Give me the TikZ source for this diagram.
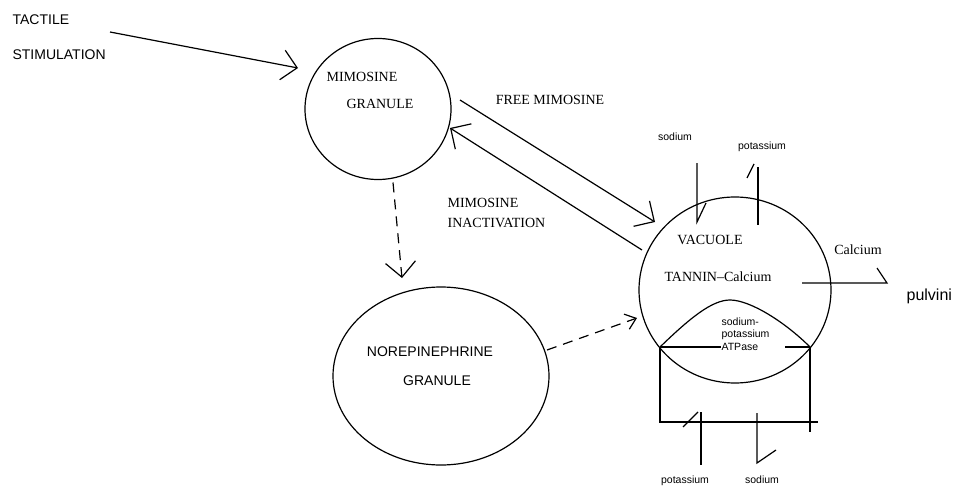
\documentclass[tikz,border=0pt]{standalone}
\usepackage{fontspec}
\setmainfont{Liberation Serif}
\setsansfont{Liberation Sans}
\usetikzlibrary{arrows.meta,shapes.geometric}

\begin{document}
\begin{tikzpicture}[x=1pt,y=-1pt,line width=1.2pt,
    >={Straight Barb[length=15pt,width=30pt]},
    serif/.style={font=\fontsize{14}{16}\selectfont,inner sep=0pt},
    sans/.style={font=\sffamily\fontsize{14}{16}\selectfont,inner sep=0pt},
    ion/.style={font=\sffamily\fontsize{10.5}{12.5}\selectfont,inner sep=0pt},
    blob/.style={draw,ellipse,inner sep=0pt,outer sep=0pt},
    dashy/.style={dash pattern=on 10pt off 7pt}]
    \useasboundingbox (0,0) rectangle (956,487);

    % Draw stimulus
    \node[sans,anchor=west] (tactile) at (12,20) {TACTILE};
    \node[sans,anchor=west] (stim) at (12,55) {STIMULATION};

    % Draw mimosine granule
    \node[blob,minimum width=146pt,minimum height=141pt] (mimgran) at (378,109) {};
    \node[serif] (mimtxt) at (362,77) {MIMOSINE};
    \node[serif] (mimgtxt) at (380,104) {GRANULE};

    % Draw norepinephrine granule
    \node[blob,minimum width=216pt,minimum height=178pt] (norgran) at (441,376) {};
    \node[sans] (nortxt) at (430,352) {NOREPINEPHRINE};
    \node[sans] (norgtxt) at (437,381) {GRANULE};

    % Draw vacuole
    \node[blob,minimum width=192pt,minimum height=186pt] (vac) at (735,290) {};
    \node[serif] (vactxt) at (710,240) {VACUOLE};
    \node[serif] (tannin) at (718,277) {TANNIN--Calcium};

    % Draw labels of the arrows
    \node[serif] (free) at (550,100) {FREE MIMOSINE};
    \node[serif,anchor=west] (inact) at (447,203) {MIMOSINE};
    \node[serif,anchor=west] (inact2) at (447,223) {INACTIVATION};

    % Draw arrows between granules
    \coordinate (tacend) at (298,68);
    \coordinate (freestart) at (460,100);
    \coordinate (freeend) at (655,222);
    \coordinate (inacstart) at (642,250);
    \coordinate (inacend) at (450,128);
    \draw[->] (110,32) -- (tacend);
    \draw[->] (freestart) -- (freeend);
    \draw[->] (inacstart) -- (inacend);
    \draw[->,dashy] (mimgran.south) ++(15,3) -- (402,278);
    \draw[-{Straight Barb[length=10pt,width=16pt]},dashy] (547,350) -- (637,318);

    % Draw ATPase pump
    \coordinate (L) at (660,347);
    \coordinate (R) at (810,347);
    \node[ion,anchor=north west,align=left] (atp) at (721,317) {sodium-\\potassium\\ATPase};
    \draw (L) .. controls (690,318) and (712,300) .. (730,300)
              .. controls (750,300) and (785,322) .. (R);
    \draw (L) -- (721,347);
    \draw (785,347) -- (R);
    \draw (L) -- (660,422) -- (818,422);
    \draw (R) -- (810,432);

    % Draw ion channels
    \node[ion] (natop) at (675,137) {sodium};
    \node[ion] (ktop) at (762,147) {potassium};
    \node[ion] (kbot) at (685,481) {potassium};
    \node[ion] (nabot) at (762,480) {sodium};
    \node[serif] (calc) at (858,250) {Calcium};
    \node[font=\sffamily\fontsize{16}{18}\selectfont,inner sep=0pt,anchor=base west] (pulvini) at (906,300) {pulvini};
    \draw (697,163) -- (697,222) -- (706,203);
    \draw (758,167) -- (758,225);
    \draw (747,178) -- (754,164);
    \draw (802,283) -- (887,283) -- (877,268);
    \draw (701,412) -- (701,465);
    \draw (683,427) -- (698,412);
    \draw (757,413) -- (757,463) -- (776,450);
\end{tikzpicture}
\end{document}
